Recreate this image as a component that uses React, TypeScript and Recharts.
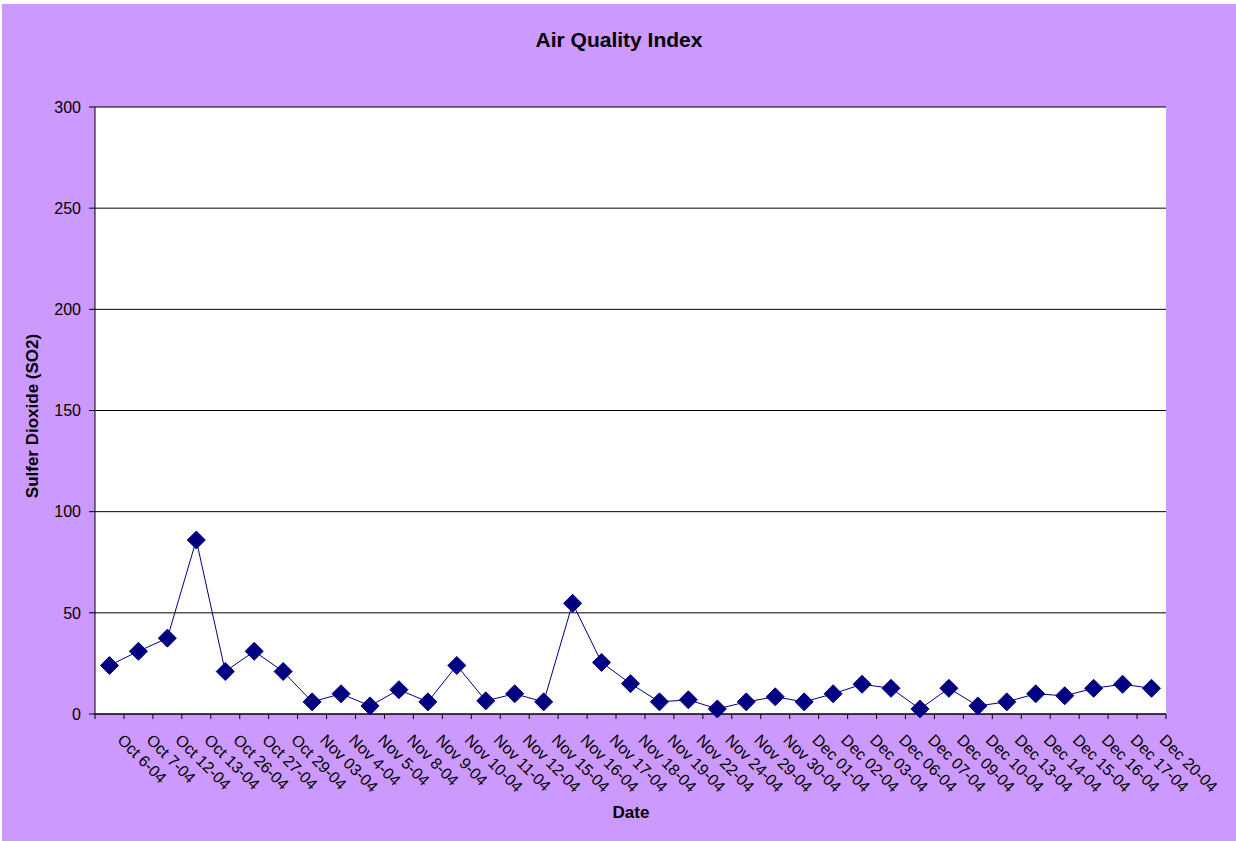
import { LineChart, Line, XAxis, YAxis, CartesianGrid } from 'recharts';

const dates = [
  'Oct 6-04', 'Oct 7-04', 'Oct 12-04', 'Oct 13-04', 'Oct 26-04', 'Oct 27-04', 'Oct 29-04',
  'Nov 03-04', 'Nov 4-04', 'Nov 5-04', 'Nov 8-04', 'Nov 9-04', 'Nov 10-04', 'Nov 11-04',
  'Nov 12-04', 'Nov 15-04', 'Nov 16-04', 'Nov 17-04', 'Nov 18-04', 'Nov 19-04', 'Nov 22-04',
  'Nov 24-04', 'Nov 29-04', 'Nov 30-04', 'Dec 01-04', 'Dec 02-04', 'Dec 03-04', 'Dec 06-04',
  'Dec 07-04', 'Dec 09-04', 'Dec 10-04', 'Dec 13-04', 'Dec 14-04', 'Dec 15-04', 'Dec 16-04',
  'Dec 17-04', 'Dec 20-04',
];

const so2 = [
  24, 31, 37.5, 86, 21, 31, 21,
  6, 10, 4, 12, 6, 24, 6.5,
  10, 6, 54.7, 25.5, 15, 6, 7,
  2.5, 6, 8.5, 6, 10, 14.7, 12.7,
  2.5, 12.7, 4, 6, 10, 9, 12.7,
  14.7, 12.7,
];

const yTicks = [0, 50, 100, 150, 200, 250, 300];

const data = dates.map((date, i) => ({ date, so2: so2[i] }));

const FONT = "Arial, 'Liberation Sans', sans-serif";
const W = 1234;
const H = 837;
const MARGIN = { top: 103, right: 70, bottom: 97, left: 0 };
const Y_AXIS_W = 93;
const X_AXIS_H = 30;
const BAND = (W - MARGIN.left - MARGIN.right - Y_AXIS_W) / dates.length;

// diamond marker like excel
const Diamond = (props: any) => {
  const { cx, cy } = props;
  if (cx == null || cy == null) return null;
  const r = 9;
  return (
    <polygon
      points={`${cx},${cy - r} ${cx + r},${cy} ${cx},${cy + r} ${cx - r},${cy}`}
      fill="#000080"
      stroke="#000080"
    />
  );
};

const DateTick = (props: any) => {
  const { x, y, payload, index } = props;
  const tx = x + 7;
  const ty = y + 27;
  return (
    <g>
      {index === 0 && (
        <line x1={x - BAND / 2} y1={y} x2={x - BAND / 2} y2={y + 5} stroke="#000" />
      )}
      <line x1={x + BAND / 2} y1={y} x2={x + BAND / 2} y2={y + 5} stroke="#000" />
      <text
        x={tx}
        y={ty}
        transform={`rotate(45, ${tx}, ${ty})`}
        textAnchor="start"
        fontSize={16}
        fontFamily={FONT}
        fill="#000"
      >
        {payload.value}
      </text>
    </g>
  );
};

export default function App() {
  return (
    <div
      style={{
        position: 'absolute',
        left: 0,
        top: 0,
        width: 1236,
        height: 841,
        background: '#fff',
        fontFamily: FONT,
      }}
    >
      <div
        style={{
          position: 'absolute',
          left: 2,
          top: 4,
          width: W,
          height: H,
          background: '#CC99FF',
        }}
      >
        <LineChart width={W} height={H} data={data} margin={MARGIN}>
          <CartesianGrid
            vertical={false}
            stroke="#000"
            fill="#fff"
            fillOpacity={1}
          />
          <XAxis
            dataKey="date"
            interval={0}
            height={X_AXIS_H}
            padding={{ left: BAND / 2, right: BAND / 2 }}
            tickLine={false}
            tickSize={0}
            tickMargin={0}
            axisLine={{ stroke: '#000' }}
            tick={<DateTick />}
          />
          <YAxis
            domain={[0, 300]}
            ticks={yTicks}
            width={Y_AXIS_W}
            tickSize={6}
            tickMargin={8}
            axisLine={{ stroke: '#000' }}
            tickLine={{ stroke: '#000' }}
            tick={{ fontSize: 16, fill: '#000', fontFamily: FONT }}
          />
          <YAxis
            yAxisId="right"
            orientation="right"
            domain={[0, 300]}
            width={0}
            tick={false}
            tickLine={false}
            axisLine={{ stroke: '#999' }}
          />
          <Line
            type="linear"
            dataKey="so2"
            stroke="#000080"
            strokeWidth={1}
            dot={<Diamond />}
            activeDot={false}
            isAnimationActive={false}
          />
        </LineChart>
        <div
          style={{
            position: 'absolute',
            left: 0,
            width: W,
            top: 24,
            textAlign: 'center',
            fontSize: 21,
            fontWeight: 'bold',
            color: '#000',
          }}
        >
          Air Quality Index
        </div>
        <div
          style={{
            position: 'absolute',
            left: 31,
            top: 412,
            transform: 'translate(-50%, -50%) rotate(-90deg)',
            whiteSpace: 'nowrap',
            fontSize: 17,
            fontWeight: 'bold',
            color: '#000',
          }}
        >
          Sulfer Dioxide (SO2)
        </div>
        <div
          style={{
            position: 'absolute',
            left: 629,
            top: 809,
            transform: 'translate(-50%, -50%)',
            fontSize: 17,
            fontWeight: 'bold',
            color: '#000',
          }}
        >
          Date
        </div>
      </div>
    </div>
  );
}
